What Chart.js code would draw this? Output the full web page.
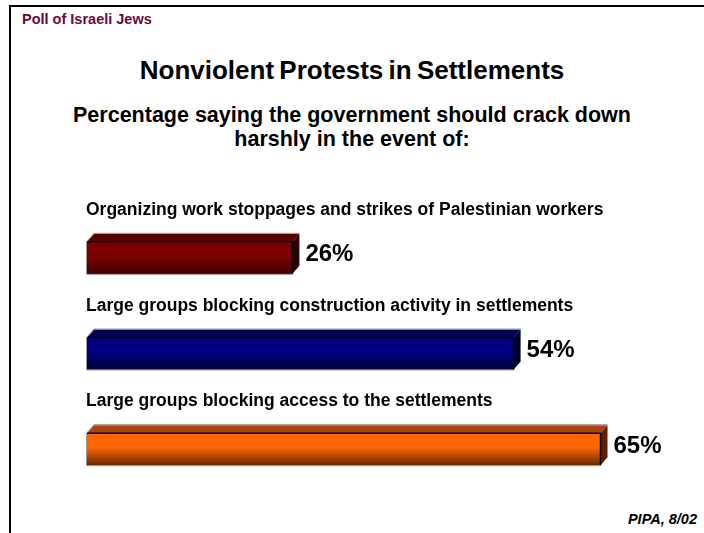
<!DOCTYPE html>
<html>
<head>
<meta charset="utf-8">
<script src="https://cdn.jsdelivr.net/npm/chart.js@4.4.0/dist/chart.umd.min.js"></script>
<style>
  body { margin: 0; background: #fff; font-family: "Liberation Sans", Arial, sans-serif; }
  #wrap { position: relative; width: 704px; height: 533px; overflow: hidden; }
  #frame { position: absolute; left: 9px; top: 5px; width: 720px; height: 600px;
           border-left: 2px solid #000; border-top: 2px solid #000; }
  .t { position: absolute; font-weight: bold; white-space: nowrap; color: #000; line-height: 1.15; }
  #poll { left: 22px; top: 11px; font-size: 14.5px; color: #6b0a3a; }
  #title { left: 0; width: 704px; text-align: center; top: 56px; font-size: 26px; word-spacing: -2px; }
  #sub { left: 0; width: 704px; text-align: center; top: 103px; font-size: 21.5px; line-height: 24px; }
  #src { right: 7px; top: 511px; font-size: 14.5px; font-style: italic; }
  canvas { position: absolute; left: 0; top: 0; }
</style>
</head>
<body>
<div id="wrap">
  <div id="frame"></div>
  <div class="t" id="poll">Poll of Israeli Jews</div>
  <div class="t" id="title">Nonviolent Protests in Settlements</div>
  <div class="t" id="sub">Percentage saying the government should crack down<br>harshly in the event of:</div>
  <div class="t" id="src">PIPA, 8/02</div>
  <canvas id="chart" width="704" height="533"></canvas>
</div>
<script>
// data
const categories = [
  'Organizing work stoppages and strikes of Palestinian workers',
  'Large groups blocking construction activity in settlements',
  'Large groups blocking access to the settlements'
];
const values = [26, 54, 65];
const valueLabels = ['26%', '54%', '65%'];

// colours: front top, front bottom, top face, side face
const frontTop = ['#7c0000', '#000084', '#ff6600'];
const frontBottom = ['#430000', '#000038', '#6a2800'];
const topFace = ['#560000', '#000055', '#a8440c'];
const sideFace = ['#2c0000', '#00002c', '#5a2000'];

const DX = 7, DY = 8, THICK = 32;

const frontGradient = (c) => {
  const chart = c.chart;
  const i = c.dataIndex;
  if (i === undefined) return frontTop[0];
  const yc = chart.scales.y ? chart.scales.y.getPixelForValue(i) : NaN;
  if (!isFinite(yc)) return frontTop[i];
  const g = chart.ctx.createLinearGradient(0, yc - THICK / 2, 0, yc + THICK / 2);
  g.addColorStop(0, frontTop[i]);
  g.addColorStop(0.45, frontTop[i]);
  g.addColorStop(1, frontBottom[i]);
  return g;
};

const bar3d = {
  id: 'bar3d',
  afterDatasetsDraw(chart) {
    const ctx = chart.ctx;
    const meta = chart.getDatasetMeta(0);
    ctx.save();
    meta.data.forEach((bar, i) => {
      const top = bar.y - bar.height / 2;
      const bottom = bar.y + bar.height / 2;
      const left = bar.base;
      const right = bar.x;

      // top face
      ctx.beginPath();
      ctx.moveTo(left, top);
      ctx.lineTo(left + DX, top - DY);
      ctx.lineTo(right + DX, top - DY);
      ctx.lineTo(right, top);
      ctx.closePath();
      ctx.fillStyle = topFace[i];
      ctx.fill();

      // side face
      ctx.beginPath();
      ctx.moveTo(right, top);
      ctx.lineTo(right + DX, top - DY);
      ctx.lineTo(right + DX, bottom - DY);
      ctx.lineTo(right, bottom);
      ctx.closePath();
      ctx.fillStyle = sideFace[i];
      ctx.fill();

      // edges
      ctx.strokeStyle = '#000';
      ctx.lineWidth = 1.5;
      ctx.beginPath();
      ctx.moveTo(left, top);
      ctx.lineTo(right, top);
      ctx.lineTo(right, bottom);
      ctx.stroke();
      ctx.strokeStyle = '#999';
      ctx.lineWidth = 1;
      ctx.beginPath();
      ctx.moveTo(left, top - 0.5);
      ctx.lineTo(left + DX, top - DY - 0.5);
      ctx.lineTo(right + DX, top - DY - 0.5);
      ctx.moveTo(left - 0.5, top);
      ctx.lineTo(left - 0.5, bottom + 0.5);
      ctx.lineTo(right, bottom + 0.5);
      ctx.stroke();

      // value label
      ctx.fillStyle = '#000';
      ctx.font = 'bold 24px "Liberation Sans", Arial, sans-serif';
      ctx.textBaseline = 'middle';
      ctx.textAlign = 'left';
      ctx.fillText(valueLabels[i], right + DX + 6, bar.y - 3);

      // category label above bar
      ctx.font = 'bold 17.5px "Liberation Sans", Arial, sans-serif';
      ctx.textBaseline = 'alphabetic';
      ctx.fillText(categories[i], 86, bar.y - 43);
    });
    ctx.restore();
  }
};

new Chart(document.getElementById('chart'), {
  type: 'bar',
  data: {
    labels: categories,
    datasets: [{
      data: values,
      backgroundColor: frontGradient,
      borderWidth: 0,
      barThickness: THICK
    }]
  },
  options: {
    indexAxis: 'y',
    responsive: false,
    animation: false,
    layout: { padding: { left: 87, right: 24.5, top: 210, bottom: 36 } },
    scales: {
      x: { display: false, min: 0, max: 75 },
      y: { display: false }
    },
    plugins: {
      legend: { display: false },
      tooltip: { enabled: false }
    }
  },
  plugins: [bar3d]
});
</script>
</body>
</html>
